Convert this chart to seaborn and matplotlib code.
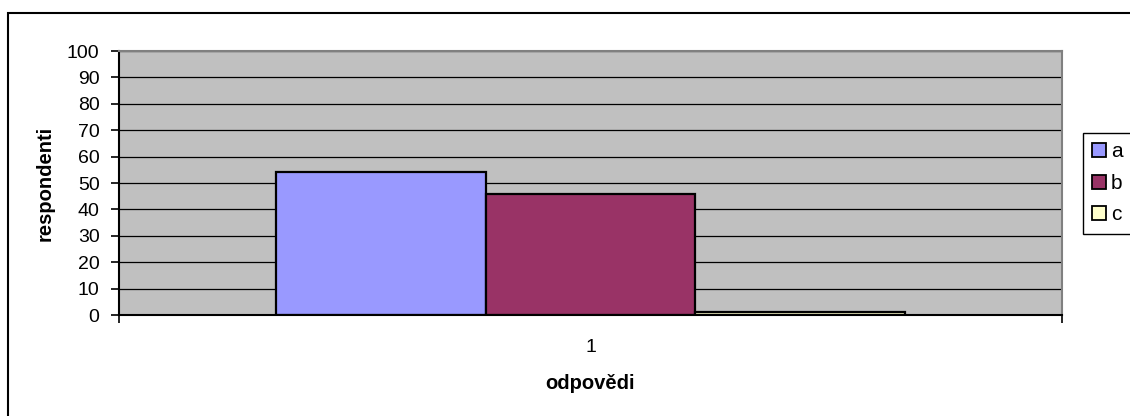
import matplotlib
matplotlib.use("Agg")
import matplotlib.pyplot as plt
from matplotlib.patches import Rectangle, Patch
import seaborn as sns
import pandas as pd

# Survey answers: one question, three answer options
categories = ["1"]
series = ["a", "b", "c"]
values = [54, 46, 1]
colors = ["#9999FF", "#993366", "#FFFFCC"]
y_ticks = [0, 10, 20, 30, 40, 50, 60, 70, 80, 90, 100]

df = pd.DataFrame({
    "odpovedi": categories * len(series),
    "serie": series,
    "respondenti": values,
})

sns.set_theme(style="white")
plt.rcParams["font.family"] = ["Liberation Sans", "DejaVu Sans"]
plt.rcParams.update({
    "text.color": "black",
    "axes.labelcolor": "black",
    "xtick.color": "black",
    "ytick.color": "black",
})

W, H = 1130, 416
fig = plt.figure(figsize=(W / 100, H / 100), dpi=100)
ax = fig.add_axes([119 / W, 1 - 315 / H, (1062 - 119) / W, (315 - 51) / H])
ax.set_facecolor("#C0C0C0")

sns.barplot(
    data=df, x="odpovedi", y="respondenti", hue="serie",
    palette=colors, width=0.667, gap=0, edgecolor="black",
    linewidth=1.6, saturation=1, legend=False, ax=ax,
)

ax.set_xlim(-0.5, 0.5)
ax.set_ylim(0, 100)
ax.set_yticks(y_ticks)
ax.set_yticklabels([str(t) for t in y_ticks], fontsize=14)
for t in y_ticks[1:]:
    ax.axhline(t, color="black", linewidth=0.9, zorder=0.5)

# category label in the middle, tick marks on the category borders
ax.set_xticks([0])
ax.set_xticklabels(categories, fontsize=14)
ax.tick_params(axis="x", which="major", length=0, pad=17)
ax.set_xticks([-0.5, 0.5], minor=True)
ax.tick_params(axis="x", which="minor", length=6, width=1.2, color="black", direction="out", bottom=True)
ax.tick_params(axis="y", length=6, width=1.2, color="black", direction="out", pad=8, left=True)

ax.set_xlabel("odpovědi", fontsize=14.5, fontweight="bold")
ax.set_ylabel("respondenti", fontsize=14.5, fontweight="bold")
ax.xaxis.set_label_coords(0.5, -0.225)
ax.yaxis.set_label_coords(-0.068, 0.5)

for side in ("left", "bottom"):
    ax.spines[side].set_color("black")
    ax.spines[side].set_linewidth(1.5)
for side in ("top", "right"):
    ax.spines[side].set_color("#808080")
    ax.spines[side].set_linewidth(1.5)

handles = [Patch(facecolor=c, edgecolor="black", linewidth=1.3) for c in colors]
fig.legend(
    handles, series, loc="upper left",
    bbox_to_anchor=(1083 / W, 1 - 133 / H),
    frameon=True, fancybox=False, edgecolor="black", framealpha=1,
    fontsize=15, handlelength=0.65, handleheight=0.65, handletextpad=0.25,
    labelspacing=0.6, borderpad=0.45, borderaxespad=0,
)

# chart frame
fig.patches.append(Rectangle((8 / W, -0.1), 1.2, 1 - 13 / H + 0.1,
                             transform=fig.transFigure, fill=False,
                             edgecolor="black", linewidth=1.5))

fig.savefig("out.png", dpi=100)
